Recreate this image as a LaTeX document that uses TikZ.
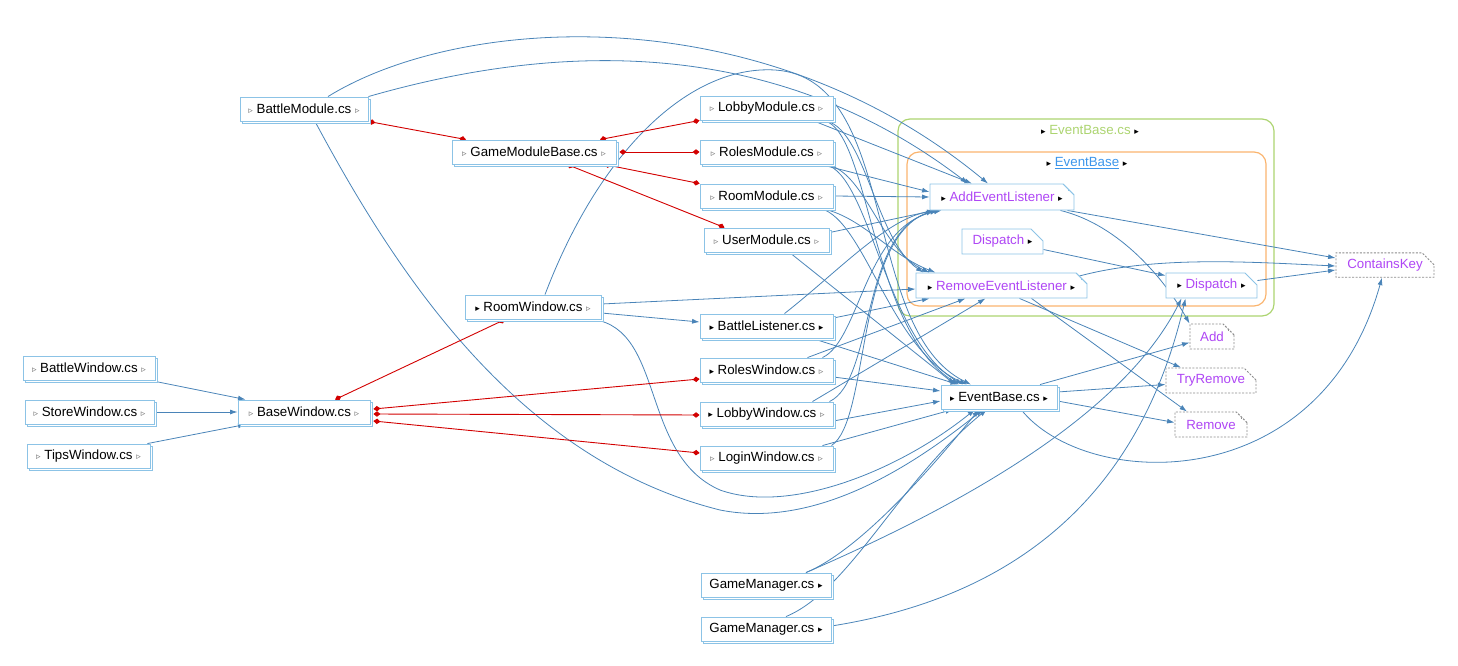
\documentclass[tikz,border=0pt]{standalone}
\usepackage{fontspec}
\setmainfont{Liberation Sans}
\newfontfamily\symfnt{DejaVu Sans}
\usepackage{xcolor}
\usetikzlibrary{arrows.meta,shapes.misc,shadows}

\definecolor{boxblue}{RGB}{140,195,230}
\definecolor{edgeblue}{RGB}{74,132,184}
\definecolor{inhred}{RGB}{210,0,0}
\definecolor{methpurple}{RGB}{175,70,245}
\definecolor{grpgreen}{RGB}{172,212,112}
\definecolor{grporange}{RGB}{250,180,110}
\definecolor{linkblue}{RGB}{60,150,235}
\definecolor{extgray}{RGB}{140,140,140}
\definecolor{markgray}{RGB}{110,110,110}

\newcommand{\mkon}{{\color{black}\symfnt\fontsize{9}{9}\selectfont ▸}}
\newcommand{\mkoff}{{\color{markgray}\symfnt\fontsize{9}{9}\selectfont ▹}}

\pgfdeclarelayer{bg}
\pgfsetlayers{bg,main}

\tikzset{
  cls/.style={rectangle, draw=boxblue, fill=white, line width=0.9pt, minimum height=24pt,
    inner xsep=4pt, inner ysep=0pt,
    copy shadow={shadow xshift=2.5pt, shadow yshift=-2.5pt, draw=boxblue, fill=white}},
  fold/.style={path picture={\draw[#1] ([xshift=-6pt]path picture bounding box.north east)
    |- ([yshift=-6pt]path picture bounding box.north east);}},
  meth/.style={chamfered rectangle, chamfered rectangle corners=north east,
    chamfered rectangle xsep=6pt, chamfered rectangle ysep=6pt, draw=boxblue, fill=white,
    line width=0.9pt, text=methpurple, minimum height=25pt, inner sep=0pt, fold=boxblue},
  ext/.style={meth, draw=extgray, dash pattern=on 2pt off 1.5pt, fold={extgray, dash pattern=on 1pt off 1pt}},
  dep/.style={draw=edgeblue, line width=0.8pt, -{Latex[length=7.5pt,width=5pt]}},
  inh/.style={draw=inhred, line width=0.9pt, {Diamond[length=7pt,width=5.5pt]}-{Diamond[length=7pt,width=5.5pt]}},
}

\begin{document}
\begin{tikzpicture}[x=1pt, y=1pt, font=\fontsize{13.3}{15}\selectfont]
    \useasboundingbox (0,0) rectangle (1458,-666);

    % Modules
    \node[cls, minimum width=128pt] (bm) at (304,-109) {\mkoff\ BattleModule.cs\ \mkoff};
    \node[cls, minimum width=164pt] (gmb) at (534,-152) {\mkoff\ GameModuleBase.cs\ \mkoff};
    \node[cls, minimum width=133pt] (lbm) at (766.5,-108) {\mkoff\ LobbyModule.cs\ \mkoff};
    \node[cls, minimum width=133pt] (rlm) at (766.5,-152) {\mkoff\ RolesModule.cs\ \mkoff};
    \node[cls, minimum width=133pt] (rmm) at (766.5,-196) {\mkoff\ RoomModule.cs\ \mkoff};
    \node[cls, minimum width=125pt] (usm) at (766.5,-240) {\mkoff\ UserModule.cs\ \mkoff};

    % Windows
    \node[cls, minimum width=136pt] (rw) at (533,-307) {\mkon\ RoomWindow.cs\ \mkoff};
    \node[cls, minimum width=133pt] (bl) at (766.5,-326) {\mkon\ BattleListener.cs\ \mkon};
    \node[cls, minimum width=133pt] (rlw) at (766.5,-370) {\mkon\ RolesWindow.cs\ \mkoff};
    \node[cls, minimum width=133pt] (lbw) at (766.5,-414) {\mkon\ LobbyWindow.cs\ \mkoff};
    \node[cls, minimum width=133pt] (lgw) at (766.5,-458) {\mkoff\ LoginWindow.cs\ \mkoff};
    \node[cls, minimum width=132pt] (btw) at (89,-368) {\mkoff\ BattleWindow.cs\ \mkoff};
    \node[cls, minimum width=129pt] (stw) at (89.5,-412) {\mkoff\ StoreWindow.cs\ \mkoff};
    \node[cls, minimum width=123pt] (tpw) at (88.5,-456) {\mkoff\ TipsWindow.cs\ \mkoff};
    \node[cls, minimum width=132pt] (bw) at (304,-412) {\mkoff\ BaseWindow.cs\ \mkoff};

    % Managers and events
    \node[cls, minimum width=116pt] (eb) at (999,-397) {\mkon\ EventBase.cs\ \mkon};
    \node[cls, minimum width=130pt] (gm1) at (766,-585) {GameManager.cs\ \mkon};
    \node[cls, minimum width=130pt] (gm2) at (766,-629) {GameManager.cs\ \mkon};

    % EventBase.cs group
    \node[text=grpgreen] (grpfile) at (1090,-130) {\mkon\ EventBase.cs\ \mkon};
    \node (grpcls) at (1087,-163) {\mkon\ {\color{linkblue}\underline{EventBase}}\ \mkon};
    \node[meth, minimum width=144pt, minimum height=26pt] (ael) at (1002,-197) {\mkon\ AddEventListener\ \mkon};
    \node[meth, minimum width=81pt] (dsi) at (1002.5,-241.5) {Dispatch\ \mkon};
    \node[meth, minimum width=171pt] (rel) at (1001.5,-285.5) {\mkon\ RemoveEventListener\ \mkon};
    \node[meth, minimum width=91pt] (dsp) at (1211.5,-285.5) {\mkon\ Dispatch\ \mkon};

    % Dictionary calls
    \node[ext, minimum width=98pt, minimum height=24pt] (ck) at (1385,-265) {ContainsKey};
    \node[ext, minimum width=44pt] (addm) at (1212,-336.5) {Add};
    \node[ext, minimum width=90pt] (trm) at (1211,-380.5) {TryRemove};
    \node[ext, minimum width=72pt] (rmv) at (1211,-424.5) {Remove};

    \begin{pgfonlayer}{bg}
    \draw[grpgreen, line width=1.2pt, rounded corners=12pt] (898,-119) rectangle (1274,-316);
    \draw[grporange, line width=1.2pt, rounded corners=12pt] (907,-152) rectangle (1266,-306);

    % Arrows
    \draw[dep] ([xshift=24pt]bm.north) .. controls (460,-15) and (760,5) .. ([xshift=-14pt]ael.north);
    \draw[dep] (bm.north east) .. controls (600,-30) and (800,-55) .. ([xshift=-34pt]ael.north);
    \draw[dep] ([xshift=11pt]bm.south) .. controls (400,-280) and (520,-460) .. (720,-510)
        .. controls (820,-530) and (920,-460) .. ([xshift=-16pt]eb.south);
    \draw[dep] ([xshift=12pt]rw.north) .. controls (600,-150) and (690,-65) .. (775,-70)
        .. controls (900,-78) and (860,-330) .. ([xshift=-28pt]eb.north);
    \draw[dep] ([yshift=3pt]rw.east) -- ([yshift=-3.5pt]rel.west);
    \draw[dep] ([yshift=-6pt]rw.east) -- ([yshift=4pt]bl.west);
    \draw[dep] ([xshift=-8pt]rw.south east) .. controls (665,-330) and (640,-455) .. (720,-490)
        .. controls (790,-515) and (900,-470) .. ([xshift=-24pt]eb.south);

    \draw[dep] ([xshift=46pt]lbm.south) -- ([xshift=-30pt]ael.north);
    \draw[dep] ([xshift=-10pt]lbm.south east) .. controls (865,-125) and (875,-240) .. ([xshift=-78pt]rel.north);
    \draw[dep] ([xshift=-10pt]lbm.south east) .. controls (870,-130) and (870,-330) .. ([xshift=-40pt]eb.north);
    \draw[dep] ([xshift=-13pt]rlm.south east) -- ([yshift=5pt]ael.west);
    \draw[dep] ([xshift=-8pt]rlm.south east) .. controls (865,-170) and (880,-250) .. ([xshift=-72pt]rel.north);
    \draw[dep] ([xshift=-8pt]rlm.south east) .. controls (870,-175) and (885,-340) .. ([xshift=-36pt]eb.north);
    \draw[dep] (rmm.east) -- (ael.west);
    \draw[dep] ([xshift=-13pt]rmm.south east) .. controls (860,-215) and (890,-255) .. ([xshift=-66pt]rel.north);
    \draw[dep] ([xshift=-13pt]rmm.south east) .. controls (865,-220) and (890,-350) .. ([xshift=-32pt]eb.north);
    \draw[dep] ([yshift=-5pt]usm.north east) -- ([xshift=5pt]ael.south west);
    \draw[dep] ([xshift=23pt]usm.south) -- ([xshift=-44pt]eb.north);

    \draw[dep] ([xshift=18pt]bl.north) .. controls (840,-270) and (890,-215) .. ([xshift=10pt]ael.south west);
    \draw[dep] ([yshift=8pt]bl.east) -- ([xshift=14pt]rel.south west);
    \draw[dep] ([xshift=46pt]bl.south) -- ([xshift=-41pt]eb.north);
    \draw[dep] ([xshift=41pt]rlw.north) -- ([xshift=-36pt]rel.south);
    \draw[dep] ([xshift=56pt]rlw.north) .. controls (860,-340) and (865,-225) .. ([xshift=12pt]ael.south west);
    \draw[dep] ([yshift=-7pt]rlw.east) -- ([yshift=6pt]eb.west);
    \draw[dep] ([xshift=46pt]lbw.north) -- ([xshift=-16pt]rel.south);
    \draw[dep] ([xshift=63pt]lbw.north) .. controls (875,-380) and (860,-230) .. ([xshift=8pt]ael.south west);
    \draw[dep] ([yshift=-7pt]lbw.east) -- ([yshift=-4pt]eb.west);
    \draw[dep] ([xshift=56pt]lgw.north) -- ([xshift=-46pt]eb.south);
    \draw[dep] ([xshift=65pt]lgw.north) .. controls (870,-420) and (855,-240) .. ([xshift=4pt]ael.south west);

    \draw[dep] ([xshift=40pt]gm1.north) .. controls (860,-550) and (930,-470) .. ([xshift=-20pt]eb.south);
    \draw[dep] ([xshift=40pt]gm1.north) .. controls (950,-510) and (1120,-420) .. ([xshift=-30pt]dsp.south);
    \draw[dep] ([xshift=20pt]gm2.north) .. controls (850,-590) and (900,-480) .. ([xshift=-12pt]eb.south);
    \draw[dep] ([yshift=3pt]gm2.east) .. controls (1060,-590) and (1150,-450) .. ([xshift=-26pt]dsp.south);

    \draw[dep] ([xshift=41pt]eb.north) -- ([yshift=-6pt]addm.west);
    \draw[dep] ([yshift=5pt]eb.east) -- ([yshift=-4pt]trm.west);
    \draw[dep] ([yshift=-4pt]eb.east) -- ([yshift=2pt]rmv.west);
    \draw[dep] ([xshift=22pt]eb.south) .. controls (1085,-490) and (1320,-500) .. ([xshift=-3pt]ck.south);

    \draw[dep] ([xshift=-7pt]ael.south east) -- ([yshift=7pt]ck.west);
    \draw[dep] ([xshift=-14pt]ael.south east) .. controls (1120,-225) and (1165,-280) .. (addm.north west);
    \draw[dep] ([yshift=-8pt]dsi.east) -- ([yshift=-3pt]dsp.north west);
    \draw[dep] ([yshift=5pt]dsp.east) -- ([yshift=-5pt]ck.west);
    \draw[dep] ([xshift=-10pt]rel.north east) .. controls (1150,-255) and (1250,-262) .. ([yshift=-1pt]ck.west);
    \draw[dep] ([xshift=18pt]rel.south) -- ([xshift=-30pt]trm.north);
    \draw[dep] ([xshift=30pt]rel.south) -- ([xshift=-24pt]rmv.north);

    \draw[dep] ([xshift=-5pt]btw.south east) -- ([xshift=8pt]bw.north west);
    \draw[dep] (stw.east) -- (bw.west);
    \draw[dep] ([xshift=-3pt]tpw.north east) -- ([xshift=8pt]bw.south west);

    % Inheritance
    \draw[inh] (bm.south east) -- ([xshift=-68pt]gmb.north);
    \draw[inh] ([xshift=66pt]gmb.north) -- (lbm.south west);
    \draw[inh] ([xshift=3pt]gmb.east) -- (rlm.west);
    \draw[inh] ([xshift=-12pt]gmb.south east) -- (rmm.north west);
    \draw[inh] ([xshift=33pt]gmb.south) -- ([xshift=-42pt]usm.north);
    \draw[inh] ([xshift=31pt]bw.north) -- ([xshift=-28pt]rw.south);
    \draw[inh] ([xshift=3pt,yshift=3pt]bw.east) -- ([yshift=-9pt]rlw.west);
    \draw[inh] ([xshift=3pt,yshift=-2pt]bw.east) -- ([yshift=-1pt]lbw.west);
    \draw[inh] ([xshift=3pt,yshift=-9pt]bw.east) -- ([yshift=5pt]lgw.west);
    \end{pgfonlayer}
\end{tikzpicture}
\end{document}
